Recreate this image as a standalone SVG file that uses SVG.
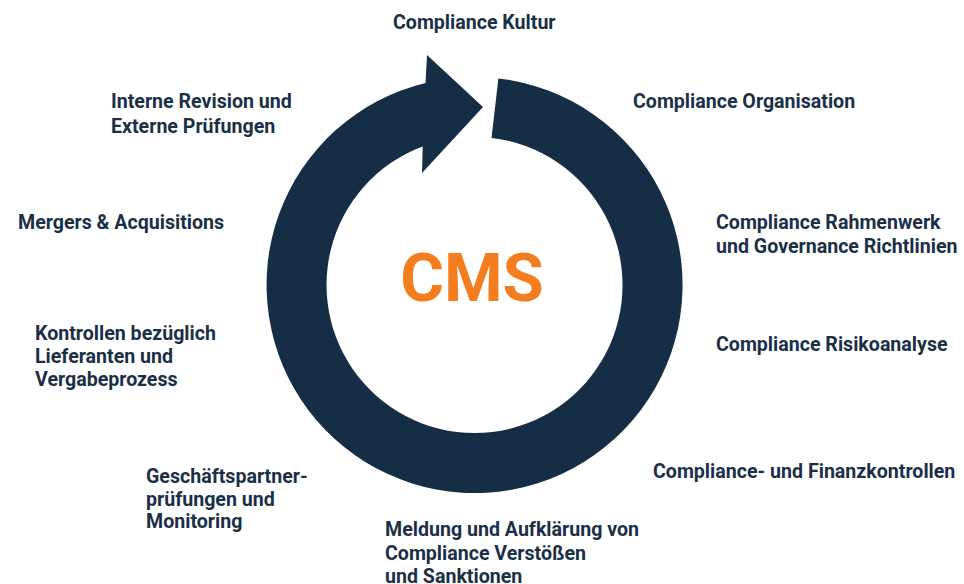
<svg xmlns="http://www.w3.org/2000/svg" width="964" height="584" viewBox="0 0 964 584">
  <style>
    .lbl { font-family: Roboto, "Liberation Sans", sans-serif; font-weight: 700; font-size: 19.6px; fill: #1a3046; }
    .core { font-family: Roboto, "Liberation Sans", sans-serif; font-weight: 700; font-size: 67px; fill: #f47d20; }
    .ring { fill: #152e45; }
  </style>
  <rect width="964" height="584" fill="#ffffff"/>

  <!-- circular cycle arrow around the centre -->
  <g id="cycle">
    <path class="ring" d="M 498.4 78.4 A 208 208 0 1 1 425.5 82.9 L 427 55 L 483 107 L 422 173 L 422.7 146.4 A 148 148 0 1 0 491.5 138 Z"/>
  </g>

  <g id="cms">
    <text class="core" x="472" y="301" text-anchor="middle">CMS</text>
  </g>

  <g id="kultur"><text class="lbl" x="393" y="29">Compliance Kultur</text></g>
  <g id="organisation"><text class="lbl" x="633" y="108">Compliance Organisation</text></g>
  <g id="rahmenwerk">
    <text class="lbl" x="716" y="229">Compliance Rahmenwerk</text>
    <text class="lbl" x="716" y="253">und Governance Richtlinien</text>
  </g>
  <g id="risikoanalyse"><text class="lbl" x="716" y="351">Compliance Risikoanalyse</text></g>
  <g id="finanzkontrollen"><text class="lbl" x="653" y="478">Compliance- und Finanzkontrollen</text></g>
  <g id="meldung">
    <text class="lbl" x="385" y="536">Meldung und Aufklärung von</text>
    <text class="lbl" x="385" y="560">Compliance Verstößen</text>
    <text class="lbl" x="385" y="583">und Sanktionen</text>
  </g>
  <g id="geschaeftspartner">
    <text class="lbl" x="146" y="483">Geschäftspartner-</text>
    <text class="lbl" x="146" y="506">prüfungen und</text>
    <text class="lbl" x="146" y="528">Monitoring</text>
  </g>
  <g id="kontrollen">
    <text class="lbl" x="35" y="340">Kontrollen bezüglich</text>
    <text class="lbl" x="35" y="363">Lieferanten und</text>
    <text class="lbl" x="35" y="386">Vergabeprozess</text>
  </g>
  <g id="mergers"><text class="lbl" x="18" y="229">Mergers &amp; Acquisitions</text></g>
  <g id="revision">
    <text class="lbl" x="111" y="108">Interne Revision und</text>
    <text class="lbl" x="111" y="133">Externe Prüfungen</text>
  </g>

  <!-- connectors: none drawn; the cycle arrow links all topics -->
  <g id="connectors"/>
</svg>
